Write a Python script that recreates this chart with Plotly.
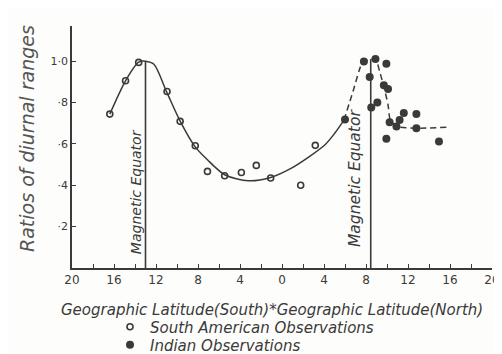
import plotly.graph_objects as go

# South latitudes negative, North positive
sa_lat = [-16.4, -14.9, -13.65, -10.95, -9.7, -8.26, -7.1, -5.46, -3.87, -2.45, -1.08, 1.78, 3.17]
sa_val = [0.744, 0.905, 0.994, 0.853, 0.709, 0.591, 0.467, 0.446, 0.462, 0.496, 0.435, 0.40, 0.593]

ind_lat = [6.0, 7.8, 8.9, 9.94, 8.35, 9.7, 10.1, 9.08, 8.5, 10.25, 10.9, 11.2, 11.6, 12.8, 12.8, 9.94, 14.95]
ind_val = [0.718, 0.998, 1.011, 0.987, 0.923, 0.883, 0.865, 0.80, 0.776, 0.705, 0.684, 0.716, 0.749, 0.744, 0.676, 0.625, 0.612]

curve_lat = [-16.4, -14.9, -13.65, -13.0, -12.2, -11.0, -9.7, -8.3, -7.1, -5.46, -3.2, -1.08, 0.9, 2.5, 4.1, 5.0, 5.9]
curve_val = [0.744, 0.905, 0.995, 1.0, 0.985, 0.853, 0.71, 0.588, 0.523, 0.451, 0.422, 0.438, 0.483, 0.535, 0.596, 0.65, 0.715]

dash_lat = [5.9, 6.76, 7.55, 7.9, 8.9, 9.3, 9.7, 10.1, 10.3, 10.9, 12.8, 15.65]
dash_val = [0.715, 0.853, 0.982, 1.0, 1.01, 0.95, 0.877, 0.789, 0.717, 0.684, 0.676, 0.68]

equator_lat = [-13.0, 8.45]
equator_top = [1.0, 1.01]
equator_label_lat = [-13.9, 6.95]
equator_label_val = [0.367, 0.435]
equator_label_size = [14, 15.5]

x_tickvals = [-20, -16, -12, -8, -4, 0, 4, 8, 12, 16, 20]
x_ticktext = ["20", "16", "12", "8", "4", "0", "4", "8", "12", "16", "20"]
y_tickvals = [0.2, 0.4, 0.6, 0.8, 1.0, 1.17]
y_ticktext = ["·2", "·4", "·6", "·8", "1·0", ""]

ink = "#3a3a3a"
FONT = "DejaVu Sans"
W, H = 502, 354
L, R, T, B = 64, 18, 18, 94
PW, PH = W - L - R, H - T - B
Y_TOP = 1.17

fig = go.Figure()

fig.add_trace(go.Scatter(x=curve_lat, y=curve_val, mode="lines",
                         line=dict(color=ink, width=1.5, shape="spline", smoothing=0.8),
                         showlegend=False, hoverinfo="skip"))
fig.add_trace(go.Scatter(x=dash_lat, y=dash_val, mode="lines",
                         line=dict(color=ink, width=1.5, dash="6px,4px", shape="spline", smoothing=0.6),
                         showlegend=False, hoverinfo="skip"))

for lat, top in zip(equator_lat, equator_top):
    fig.add_trace(go.Scatter(x=[lat, lat], y=[0, top], mode="lines",
                             line=dict(color=ink, width=1.6), showlegend=False, hoverinfo="skip"))

fig.add_trace(go.Scatter(x=sa_lat, y=sa_val, mode="markers", name="South American Observations",
                         legend="legend",
                         marker=dict(symbol="circle-open", size=6, color=ink, line=dict(width=1.6))))
fig.add_trace(go.Scatter(x=ind_lat, y=ind_val, mode="markers", name="Indian Observations",
                         legend="legend2",
                         marker=dict(symbol="circle", size=8, color=ink)))

for lat, val, sz in zip(equator_label_lat, equator_label_val, equator_label_size):
    fig.add_annotation(x=lat, y=val, xref="x", yref="y",
                       text="Magnetic Equator", textangle=-90, showarrow=False,
                       font=dict(family=FONT, size=sz, color=ink, style="italic"))

fig.add_annotation(x=(264 - L) / PW, y=(H - B - 302) / PH, xref="paper", yref="paper",
                   xanchor="center", yanchor="middle",
                   text="Geographic Latitude(South)*Geographic Latitude(North)",
                   showarrow=False,
                   font=dict(family=FONT, size=15, color=ink, style="italic"))

fig.add_annotation(x=(19 - L) / PW, y=(H - B - 131) / PH, xref="paper", yref="paper",
                   xanchor="center", yanchor="middle",
                   text="Ratios of diurnal ranges", textangle=-90, showarrow=False,
                   font=dict(family=FONT, size=19, color="#555555", style="italic"))

leg_common = dict(xref="container", yref="container", x=102 / W,
                  xanchor="left", yanchor="middle", bgcolor="rgba(0,0,0,0)",
                  font=dict(family=FONT, size=15, color=ink, style="italic"))

fig.update_layout(
    width=W, height=H,
    margin=dict(l=L, r=R, t=T, b=B, autoexpand=False),
    paper_bgcolor="#fdfdfb", plot_bgcolor="#fdfdfb",
    showlegend=True,
    legend=dict(y=1 - 319 / H, **leg_common),
    legend2=dict(y=1 - 337 / H, **leg_common),
    xaxis=dict(range=[-20, 20], tickvals=x_tickvals, ticktext=x_ticktext,
               showgrid=False, zeroline=False, showline=True, linecolor=ink, linewidth=1.5,
               ticks="inside", ticklen=4, tickcolor=ink, tickwidth=1.2, automargin=False,
               minor=dict(dtick=2, ticks="inside", ticklen=4, tickcolor=ink, tickwidth=1.2),
               tickfont=dict(family=FONT, size=12, color=ink)),
    yaxis=dict(range=[0, Y_TOP], tickvals=y_tickvals, ticktext=y_ticktext,
               showgrid=False, zeroline=False, showline=True, linecolor=ink, linewidth=1.5,
               ticks="inside", ticklen=4, tickcolor=ink, tickwidth=1.2, automargin=False,
               tickfont=dict(family=FONT, size=11, color=ink)),
)

fig.write_html("out.html")
